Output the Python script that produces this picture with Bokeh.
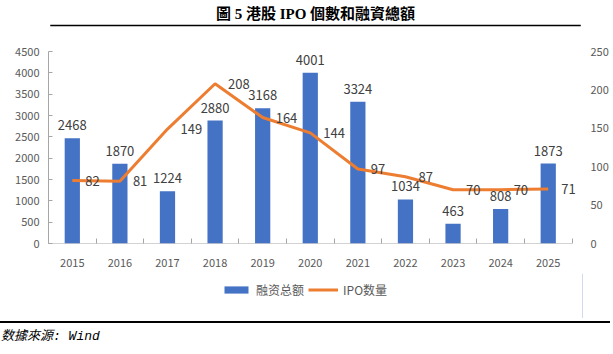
from bokeh.plotting import figure
from bokeh.models import (ColumnDataSource, LinearAxis, Range1d, FixedTicker,
                          Legend, LegendItem, Div)
from bokeh.core.properties import value
from bokeh.layouts import column
from bokeh.embed import file_html
from bokeh.resources import INLINE

years = [2015, 2016, 2017, 2018, 2019, 2020, 2021, 2022, 2023, 2024, 2025]
amount = [2468, 1870, 1224, 2880, 3168, 4001, 3324, 1034, 463, 808, 1873]
count = [82, 81, 149, 208, 164, 144, 97, 87, 70, 70, 71]
left_ticks = [0, 500, 1000, 1500, 2000, 2500, 3000, 3500, 4000, 4500]
right_ticks = [0, 50, 100, 150, 200, 250]
title_text = "圖 5 港股 IPO 個數和融資總額"
source_text = "数據來源: Wind"
bar_name = "融资总额"
line_name = "IPO数量"

BLUE = "#4472C4"
ORANGE = "#ED7D31"
GREY = "#595959"
AXIS = "#A6A6A6"
FONT = "Noto Sans CJK SC"

src = ColumnDataSource(dict(
    x=years, amount=amount, count=count,
    amount_txt=[str(v) for v in amount], count_txt=[str(v) for v in count],
))

x_start = years[0] - 0.5
x_end = years[-1] + 0.5

# title strip: a small figure in pixel coordinates (y downwards)
W, TH = 613, 27
tt = figure(width=W, height=TH, output_backend="svg", toolbar_location=None,
            x_range=Range1d(0, W), y_range=Range1d(TH, 0), margin=0,
            x_axis_location=None, y_axis_location=None,
            min_border_left=0, min_border_right=0, min_border_top=0, min_border_bottom=0)
tt.grid.visible = False
tt.outline_line_color = None
tt.text(x=[W / 2], y=[13], text=[title_text], text_align="center", text_baseline="middle",
        text_font=value("Liberation Serif, Noto Sans CJK TC"), text_font_style="bold",
        text_font_size="15px", text_color="#000000")
tt.segment(x0=[2], y0=[25], x1=[W - 2], y1=[25], line_color="#000000", line_width=1.5)

p = figure(width=613, height=246, output_backend="svg", toolbar_location=None,
           x_range=Range1d(x_start, x_end + 0.22),
           y_range=Range1d(0, 4500), margin=0,
           min_border_left=48, min_border_right=31, min_border_top=24, min_border_bottom=30)
p.extra_y_ranges = {"cnt": Range1d(0, 250)}
p.outline_line_color = None
p.border_fill_color = None
p.xgrid.visible = False
p.ygrid.visible = False

# x axis (line drawn as a segment so it stops at the last category boundary)
xa = p.xaxis[0]
xa.ticker = FixedTicker(ticks=years, minor_ticks=[y - 0.5 for y in years] + [x_end])
xa.major_tick_line_color = None
xa.minor_tick_in = 5
xa.minor_tick_out = 0
xa.minor_tick_line_color = AXIS
xa.axis_line_color = None
xa.major_label_text_color = GREY
xa.major_label_text_font = FONT
xa.major_label_text_font_size = "11px"
xa.major_label_standoff = 9
p.segment(x0=[x_start], y0=[0], x1=[x_end], y1=[0], line_color=AXIS, line_width=1)

# left axis
ya = p.yaxis[0]
ya.ticker = FixedTicker(ticks=left_ticks)
ya.minor_tick_line_color = None
ya.major_tick_in = 4
ya.major_tick_out = 0
ya.major_tick_line_color = AXIS
ya.axis_line_color = AXIS
ya.major_label_text_color = GREY
ya.major_label_text_font = FONT
ya.major_label_text_font_size = "11px"
ya.major_label_standoff = 9

# right axis
ra = LinearAxis(y_range_name="cnt", ticker=FixedTicker(ticks=right_ticks))
ra.axis_line_color = None
ra.major_tick_line_color = None
ra.minor_tick_line_color = None
ra.major_label_text_color = GREY
ra.major_label_text_font = FONT
ra.major_label_text_font_size = "11px"
ra.major_label_standoff = 2
p.add_layout(ra, "right")

p.vbar(x="x", top="amount", width=0.32, source=src, fill_color=BLUE, line_color=None)
p.line(x="x", y="count", source=src, line_color=ORANGE, line_width=3, y_range_name="cnt")

p.text(x="x", y="amount", text="amount_txt", source=src, text_align="center",
       text_baseline="bottom", y_offset=-8, text_font_size="13px", text_color="#404040",
       text_font=value(FONT))
p.text(x="x", y="count", text="count_txt", source=src, text_align="left",
       text_baseline="middle", x_offset=13, text_font_size="13px", text_color="#404040",
       text_font=value(FONT), y_range_name="cnt")

# legend strip (separate small figure; its proxy glyphs sit outside its visible range)
lg = figure(width=613, height=45, output_backend="svg", toolbar_location=None,
            x_range=Range1d(0, 1), y_range=Range1d(0, 1), margin=0,
            x_axis_location=None, y_axis_location=None,
            min_border_left=0, min_border_right=0, min_border_top=0, min_border_bottom=0)
lg.grid.visible = False
lg.outline_line_color = None
lb = lg.vbar(x=years[:1], top=amount[:1], width=0.3, fill_color=BLUE, line_color=None)
ll = lg.line(x=years[:2], y=count[:2], line_color=ORANGE, line_width=3)
legend = Legend(items=[LegendItem(label=bar_name, renderers=[lb]),
                       LegendItem(label=line_name, renderers=[ll])],
                orientation="horizontal", location=(173, 20),
                glyph_width=30, glyph_height=9, label_standoff=5, spacing=4,
                label_text_font=FONT, label_text_font_size="12px",
                label_text_color=GREY, border_line_color=None,
                background_fill_alpha=0, margin=0, padding=2)
lg.add_layout(legend, "center")

footer = Div(text=(f'<div style="position:relative;width:613px;height:36px;">'
                   f'<div style="position:absolute;left:0;top:3px;width:610px;height:2px;'
                   f'background:#000;"></div>'
                   f'<div style="position:absolute;left:1px;top:10px;'
                   f'font-family:\'Liberation Mono\',\'Noto Sans CJK TC\';'
                   f'font-style:italic;font-size:13px;line-height:17px;color:#000;">'
                   f'{source_text}</div></div>'),
             width=613, height=36, margin=0)

layout = column(tt, p, lg, footer, spacing=0, margin=0)
open("out.html", "w").write(file_html(layout, INLINE))
